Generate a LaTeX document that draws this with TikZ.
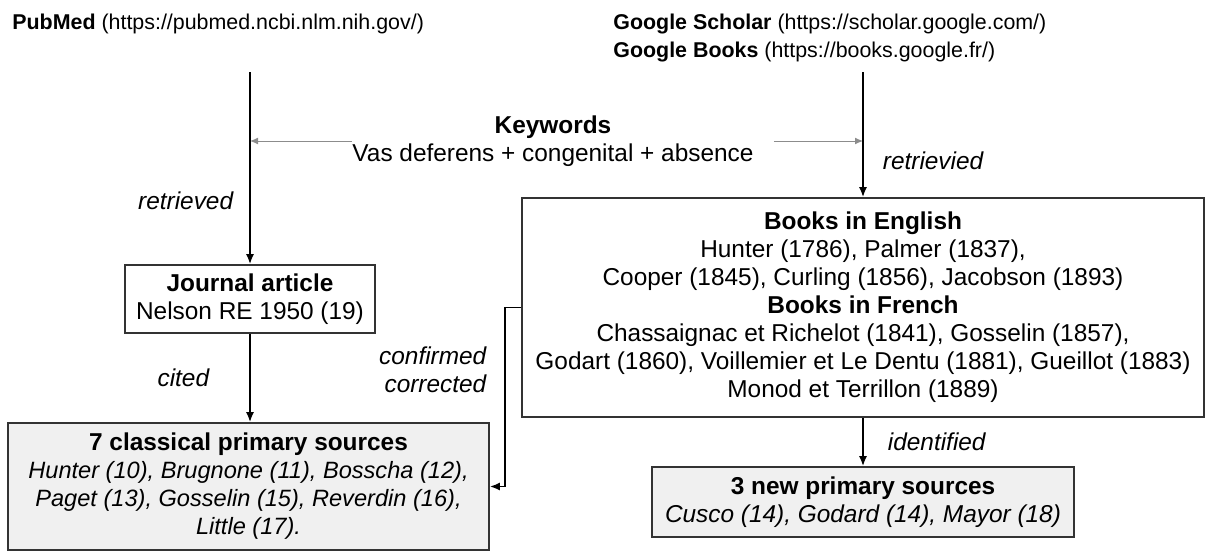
\documentclass[tikz,border=0pt]{standalone}
\usepackage{fontspec}
\setmainfont{Liberation Sans}
\usetikzlibrary{arrows.meta,positioning}
\newcommand{\titlefont}{\fontsize{10.7}{14}\selectfont}
\newcommand{\bodyfont}{\fontsize{12.2}{14}\selectfont}
\newcommand{\smallit}{\fontsize{11.8}{14}\selectfont\itshape}
\tikzstyle{box}=[draw=black!80, line width=0.8pt, align=center, inner sep=0pt]
\tikzstyle{src}=[box, fill=black!6]
\tikzstyle{lbl}=[font=\bodyfont\itshape, inner sep=2pt]
\tikzstyle{flow}=[-{Latex[length=5pt,width=4pt]}, line width=0.9pt]
\tikzstyle{kwarrow}=[-{Latex[length=4pt,width=3.5pt]}, black!45, line width=0.5pt]

\begin{document}
\begin{tikzpicture}[x=0.5pt,y=-0.5pt,font=\bodyfont]
		\useasboundingbox(0,0)rectangle(1205,552);
		% databases
		\node[anchor=west,inner sep=0,font=\titlefont](pubmed)at(12,24){\textbf{PubMed} (https://pubmed.ncbi.nlm.nih.gov/)};
		\node[anchor=west,align=left,inner sep=0,font=\titlefont](google)at(613,38){\textbf{Google Scholar} (https://scholar.google.com/)\\\textbf{Google Books} (https://books.google.fr/)};
		\coordinate(pm)at(250,72);
		\coordinate(gg)at(863,72);
		\node[align=center,inner sep=0](kw)at(553,141){\textbf{Keywords}\\Vas deferens + congenital + absence};
		% boxes
		\node[box,minimum width=125pt,minimum height=34pt](journal)at(250,299){\textbf{Journal article}\\Nelson RE 1950 (19)};
		\node[box,minimum width=341pt,minimum height=109.5pt](books)at(863,307.5){\textbf{Books in English}\\Hunter (1786), Palmer (1837),\\Cooper (1845), Curling (1856), Jacobson (1893)\\\textbf{Books in French}\\Chassaignac et Richelot (1841), Gosselin (1857),\\Godart (1860), Voillemier et Le Dentu (1881), Gueillot (1883)\\Monod et Terrillon (1889)};
		\node[src,minimum width=240.5pt,minimum height=63.5pt](classic)at(248.5,486.5){\textbf{7 classical primary sources}\\\smallit Hunter (10), Brugnone (11), Bosscha (12),\\\smallit Paget (13), Gosselin (15), Reverdin (16),\\\smallit Little (17).};
		\node[src,minimum width=211pt,minimum height=35pt](newsrc)at(863,502){\textbf{3 new primary sources}\\\itshape Cusco (14), Godard (14), Mayor (18)};
		% connectors
		\draw[kwarrow](kw.west)--(kw.west-|pm);
		\draw[kwarrow]([xshift=10pt]kw.east)--(kw.east-|gg);
		\draw[flow](pm)--node[lbl,left=6pt,pos=0.67]{retrieved}(journal.north);
		\draw[flow](gg)--node[lbl,right=7.5pt,pos=0.71]{retrievied}(books.north);
		\draw[flow](journal.south)--node[lbl,left=18pt]{cited}(journal.south|-classic.north);
		\draw[flow](books.south)--node[lbl,right=10pt]{identified}(newsrc.north);
		\draw[flow](books.west)--++(-16,0)|-node[lbl,left=7pt,align=right,pos=0.175]{confirmed\\corrected}(classic.east);
\end{tikzpicture}
\end{document}
